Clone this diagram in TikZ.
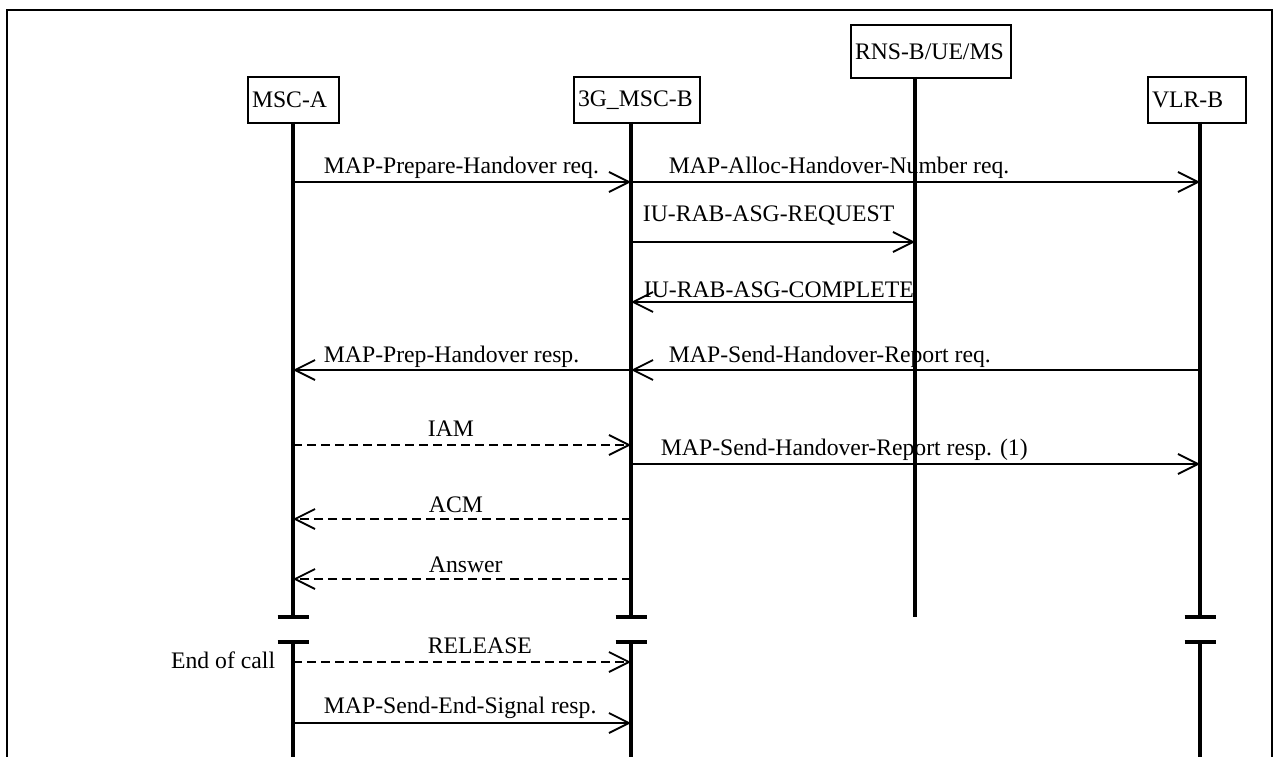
\documentclass[tikz,border=0pt]{standalone}
\usepackage{fontspec}
\setmainfont{Liberation Serif}
\usetikzlibrary{arrows.meta}

\begin{document}
\begin{tikzpicture}[x=1pt,y=-1pt,line width=1.8pt,font=\fontsize{23.7}{28}\selectfont,
  ent/.style={draw,line width=2pt,anchor=north west,inner xsep=4pt,inner ysep=0pt,minimum height=46pt,align=left},
  life/.style={line width=4.3pt},
  msg/.style={-{Straight Barb[length=20pt,width=20pt]}},
  sig/.style={msg,dash pattern=on 9pt off 5pt},
  lbl/.style={anchor=base west,inner sep=0pt}]
\useasboundingbox (0,0) rectangle (1278,757);
\draw[line width=2pt] (7,757)--(7,10)--(1272,10)--(1272,757);
% entities
\node[ent,text width=83pt] (msca) at (247,76) {MSC-A};
\node[ent,text width=118pt] (mscb) at (573,76) {3G\_MSC-B};
\node[ent,text width=152pt,minimum height=53pt] (rns) at (850,24) {\mbox{RNS-B/UE/MS}};
\node[ent,text width=90pt] (vlr) at (1147,76) {VLR-B};
\coordinate (la) at (293,122);\coordinate (lb) at (631,122);\coordinate (lr) at (915,77);\coordinate (lv) at (1200,122);
\coordinate (cut) at (0,617);\coordinate (rest) at (0,642);\coordinate (bot) at (0,757);
% lifelines with break
\foreach \l in {la,lb,lv}{
  \draw[life] (\l) -- (\l |- cut);\draw[life] (\l |- cut) ++(-15.5,0) -- ++(31,0);
  \draw[life] (\l |- rest) ++(-15.5,0) -- ++(31,0);\draw[life] (\l |- rest) -- (\l |- bot);
}
\draw[life] (lr) -- (lr |- cut);
% messages
\foreach \n/\y in {1/182,2/242,3/302,4/370,5/445,6/464,7/519,8/579,9/662,10/723}
  \coordinate (r\n) at (0,\y);
\draw[msg] (la |- r1) -- (lb |- r1);\draw[msg] (lb |- r1) -- (lv |- r1);
\draw[msg] (lb |- r2) -- (lr |- r2);
\draw[msg] (lr |- r3) -- (lb |- r3);
\draw[msg] (lb |- r4) -- (la |- r4);\draw[msg] (lv |- r4) -- (lb |- r4);
\draw[sig] (la |- r5) -- (lb |- r5);\draw[msg] (lb |- r6) -- (lv |- r6);
\draw[sig] (lb |- r7) -- (la |- r7);
\draw[sig] (lb |- r8) -- (la |- r8);
\draw[sig] (la |- r9) -- (lb |- r9);
\draw[msg] (la |- r10) -- (lb |- r10);
% labels
\node[lbl] (m1) at (323,174) {MAP-Prepare-Handover req.};
\node[lbl] (m2) at (668,174) {MAP-Alloc-Handover-Number req.};
\node[lbl] (m3) at (642,222) {IU-RAB-ASG-REQUEST};
\node[lbl] (m4) at (643,297) {IU-RAB-ASG-COMPLETE};
\node[lbl] (m5) at (323,362) {MAP-Prep-Handover resp.};
\node[lbl] (m6) at (668,362) {MAP-Send-Handover-Report req.};
\node[lbl] (m7) at (427,436) {IAM};
\node[lbl] (m8) at (660,455) {MAP-Send-Handover-Report resp. (1)};
\node[lbl] (m9) at (428,512) {ACM};
\node[lbl] (m10) at (428,572) {Answer};
\node[lbl] (m11) at (427,653) {RELEASE};
\node[lbl] (m12) at (323,713) {MAP-Send-End-Signal resp.};
\node[lbl,anchor=base east] (eoc) at (276,668) {End of call};
\end{tikzpicture}
\end{document}
